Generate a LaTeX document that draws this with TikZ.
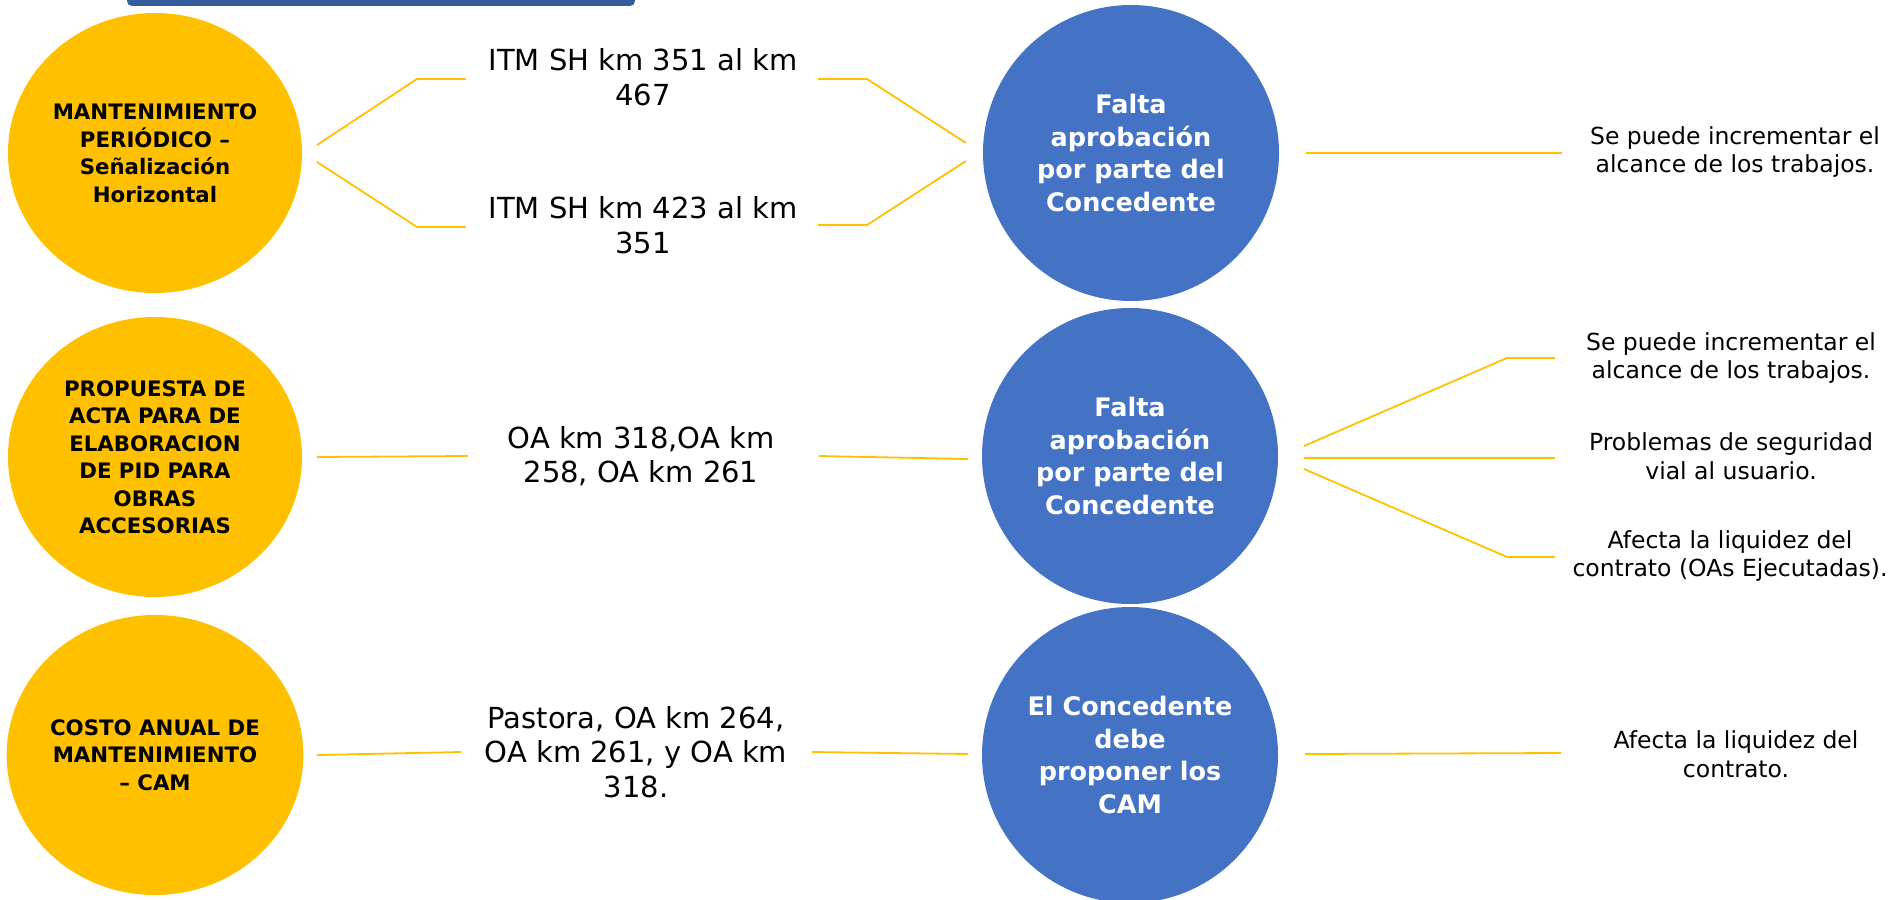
\documentclass[tikz,border=0pt]{standalone}
\usepackage{fontspec}
\setmainfont{DejaVu Sans}
\usetikzlibrary{shapes.geometric}
\definecolor{yel}{RGB}{255,192,0}
\definecolor{blu}{RGB}{68,114,196}
\definecolor{barblue}{RGB}{53,93,155}
\definecolor{lin}{RGB}{255,192,0}
\begin{document}
\begin{tikzpicture}[x=1pt,y=-1pt,
  ycirc/.style={ellipse, fill=yel, minimum width=294pt, minimum height=280pt, inner sep=0pt, align=center, font=\bfseries\fontsize{21.3}{27.5}\selectfont},
  bcirc/.style={circle, fill=blu, minimum size=296pt, inner sep=0pt, align=center, text=white, font=\bfseries\fontsize{25.5}{32.5}\selectfont},
  midtxt/.style={align=center, font=\fontsize{29}{34.5}\selectfont, inner sep=0pt},
  rtxt/.style={align=center, font=\fontsize{23.5}{28.5}\selectfont, inner sep=0pt},
  conn/.style={draw=lin, line width=1.8pt}
]
\useasboundingbox (0,0) rectangle (1894,899);
\clip (0,0) rectangle (1894,899);
\fill[barblue, rounded corners=5pt] (127,-12) rectangle (635,6);

% circles
\node[ycirc] (y1) at (155,153) {MANTENIMIENTO\\PERIÓDICO –\\Señalización\\Horizontal};
\node[ycirc] (y2) at (155,457) {PROPUESTA DE\\ACTA PARA DE\\ELABORACION\\DE PID PARA\\OBRAS\\ACCESORIAS};
\node[ycirc] (y3) at (155,755) {COSTO ANUAL DE\\MANTENIMIENTO\\– CAM};
\node[bcirc] (b1) at (1131,153) {Falta\\aprobación\\por parte del\\Concedente};
\node[bcirc] (b2) at (1130,456) {Falta\\aprobación\\por parte del\\Concedente};
\node[bcirc] (b3) at (1130,755) {El Concedente\\debe\\proponer los\\CAM};

% middle texts
\node[midtxt] (m1) at (643,77) {ITM SH km 351 al km\\467};
\node[midtxt] (m2) at (643,225) {ITM SH km 423 al km\\351};
\node[midtxt] (m3) at (641,456) {OA km 318,OA km\\258, OA km 261};
\node[midtxt] (m4) at (636,752) {Pastora, OA km 264,\\OA km 261, y OA km\\318.};

% right texts
\node[rtxt] (r1) at (1735,152) {Se puede incrementar el\\alcance de los trabajos.};
\node[rtxt] (r2) at (1731,358) {Se puede incrementar el\\alcance de los trabajos.};
\node[rtxt] (r3) at (1731,456) {Problemas de seguridad\\vial al usuario.};
\node[rtxt] (r4) at (1730,556) {Afecta la liquidez del\\contrato (OAs Ejecutadas).};
\node[rtxt] (r5) at (1736,754) {Afecta la liquidez del\\contrato.};

% connector points
\coordinate (a1) at (317,145); \coordinate (a2) at (417,79); \coordinate (a3) at (466,79);
\coordinate (a4) at (317,162); \coordinate (a5) at (417,227); \coordinate (a6) at (466,227);
\coordinate (c1) at (818,79); \coordinate (c2) at (867,79); \coordinate (c3) at (966,143);
\coordinate (c4) at (818,225); \coordinate (c5) at (867,225); \coordinate (c6) at (966,161);
\coordinate (e1) at (1306,153); \coordinate (e2) at (1562,153);

\coordinate (f1) at (317,457); \coordinate (f2) at (468,456);
\coordinate (f3) at (819,456); \coordinate (f4) at (968,459);
\coordinate (g1) at (1304,446); \coordinate (g2) at (1507,358); \coordinate (g3) at (1555,358);
\coordinate (g4) at (1304,458); \coordinate (g5) at (1555,458);
\coordinate (g6) at (1304,469); \coordinate (g7) at (1507,557); \coordinate (g8) at (1555,557);

\coordinate (h1) at (317,755); \coordinate (h2) at (461,752);
\coordinate (h3) at (812,752); \coordinate (h4) at (968,754);
\coordinate (h5) at (1305,754); \coordinate (h6) at (1561,753);

\draw[conn] (a1) -- (a2) -- (a3);
\draw[conn] (a4) -- (a5) -- (a6);
\draw[conn] (c1) -- (c2) -- (c3);
\draw[conn] (c4) -- (c5) -- (c6);
\draw[conn] (e1) -- (e2);
\draw[conn] (f1) -- (f2);
\draw[conn] (f3) -- (f4);
\draw[conn] (g1) -- (g2) -- (g3);
\draw[conn] (g4) -- (g5);
\draw[conn] (g6) -- (g7) -- (g8);
\draw[conn] (h1) -- (h2);
\draw[conn] (h3) -- (h4);
\draw[conn] (h5) -- (h6);
\end{tikzpicture}
\end{document}
